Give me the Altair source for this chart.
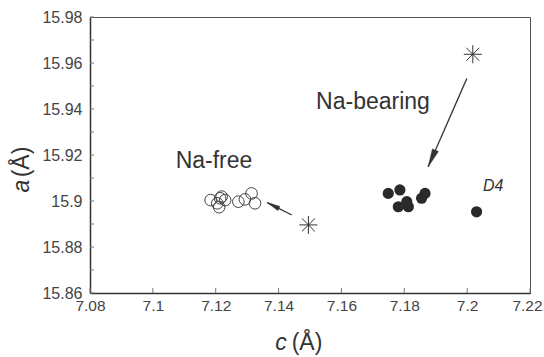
import math
import altair as alt
import pandas as pd

# ---- data ----
free_c = [7.1184, 7.1205, 7.1214, 7.1219, 7.1230, 7.1211, 7.1272, 7.1293, 7.1314, 7.1325]
free_a = [15.9004, 15.8990, 15.9012, 15.9019, 15.9004, 15.8973, 15.8997, 15.9007, 15.9033, 15.8990]

bear_c = [7.1749, 7.1786, 7.1781, 7.1808, 7.1813, 7.1855, 7.1866, 7.2030]
bear_a = [15.9033, 15.9048, 15.8975, 15.8997, 15.8975, 15.9012, 15.9033, 15.8953]

star_c = [7.1495, 7.2018]
star_a = [15.8896, 15.9638]

arrow_c1 = [7.1442, 7.1999]
arrow_a1 = [15.8939, 15.9533]
arrow_c2 = [7.1364, 7.1876]
arrow_a2 = [15.8993, 15.9149]

x_ticks = [7.08, 7.10, 7.12, 7.14, 7.16, 7.18, 7.20, 7.22]
y_ticks = [15.86, 15.88, 15.90, 15.92, 15.94, 15.96, 15.98]
y_minor = [15.86, 15.87, 15.88, 15.89, 15.90, 15.91, 15.92, 15.93, 15.94, 15.95, 15.96, 15.97, 15.98]

X_DOM = [7.08, 7.22]
Y_DOM = [15.86, 15.98]
W, H = 440, 276
FONT = "Liberation Sans"
INK = "#333333"

sx = W / (X_DOM[1] - X_DOM[0])
sy = H / (Y_DOM[1] - Y_DOM[0])
angles = []
for c1, a1, c2, a2 in zip(arrow_c1, arrow_a1, arrow_c2, arrow_a2):
    dx = (c2 - c1) * sx
    dy = -(a2 - a1) * sy
    angles.append(math.degrees(math.atan2(dx, -dy)) % 360)

free_df = pd.DataFrame({"c": free_c, "a": free_a})
bear_df = pd.DataFrame({"c": bear_c, "a": bear_a})
star_df = pd.DataFrame({"c": star_c, "a": star_a})
arrow_df = pd.DataFrame({"c1": arrow_c1, "a1": arrow_a1, "c2": arrow_c2, "a2": arrow_a2,
                         "ang": angles, "sz": [169, 324]})
one = pd.DataFrame({"k": [0]})

xscale = alt.Scale(domain=X_DOM, nice=False, zero=False)
yscale = alt.Scale(domain=Y_DOM, nice=False, zero=False)
xaxis = alt.Axis(values=x_ticks, format=".2~f", title=None, ticks=False, grid=False,
                 domainColor=INK, domainWidth=1.5, labelFont=FONT, labelFontSize=15.5,
                 labelColor="#444444", labelPadding=5, labelFlush=False,
                 labelOffset={"condition": {"test": "datum.value >= 7.219", "value": -3}, "value": 0})
yaxis = alt.Axis(values=y_ticks, format=".2~f", title=None, ticks=False, grid=False,
                 domainColor=INK, domainWidth=1.5, labelFont=FONT, labelFontSize=16,
                 labelColor="#444444", labelPadding=8, labelFlush=False)


def X(f="c"):
    return alt.X(f"{f}:Q", scale=xscale, axis=xaxis)


def Y(f="a"):
    return alt.Y(f"{f}:Q", scale=yscale, axis=yaxis)


open_pts = alt.Chart(free_df).mark_point(shape="circle", filled=False, size=135,
                                         stroke="#444444", strokeWidth=1, opacity=1).encode(x=X(), y=Y())
filled_pts = alt.Chart(bear_df).mark_circle(size=125, color="#2a2a2a", opacity=1).encode(x=X(), y=Y())
stars = alt.Chart(star_df).mark_point(
    shape="M-1,0L1,0M0,-1L0,1M-0.72,-0.72L0.72,0.72M-0.72,0.72L0.72,-0.72",
    filled=False, size=324, stroke=INK, strokeWidth=1, opacity=1).encode(x=X(), y=Y())
arrow_lines = alt.Chart(arrow_df).mark_rule(color=INK, strokeWidth=1.3).encode(
    x=X("c1"), y=Y("a1"), x2="c2:Q", y2="a2:Q")
arrow_heads = alt.Chart(arrow_df).mark_point(
    shape="M0,0L0.36,2L-0.36,2Z", filled=True, fill=INK, stroke=INK, strokeWidth=0.5, opacity=1
).encode(x=X("c2"), y=Y("a2"), angle=alt.Angle("ang:Q", scale=None),
         size=alt.Size("sz:Q", scale=None))

xt = alt.Chart(pd.DataFrame({"v": x_ticks})).mark_rule(color="#777777", strokeWidth=1).encode(
    x=alt.X("v:Q", scale=xscale, axis=xaxis), y=alt.value(H), y2=alt.value(H - 5))
yt = alt.Chart(pd.DataFrame({"v": y_minor})).mark_rule(color="#777777", strokeWidth=1).encode(
    y=alt.Y("v:Q", scale=yscale, axis=yaxis), x=alt.value(0), x2=alt.value(4))


def label(txt, x, y, size=23, style="normal", align="center", angle=0):
    kw = dict(text=txt, font=FONT, fontSize=size, fontStyle=style, color=INK,
              align=align, baseline="alphabetic")
    if angle:
        kw["angle"] = angle
    return alt.Chart(one).mark_text(**kw).encode(x=alt.value(x), y=alt.value(y))


texts = [
    label("Na-free", 124, 151),
    label("Na-bearing", 283, 92),
    label("D4", 393, 174, size=16, style="italic", align="left"),
    label("c", 191, 333, style="italic"),
    label("(Å)", 217, 333),
    label("a", -61, 169, style="italic", angle=270),
    label("(Å)", -61, 145, angle=270),
]

chart = alt.layer(xt, yt, open_pts, filled_pts, stars, arrow_lines, arrow_heads, *texts).properties(
    width=W, height=H,
    autosize=alt.AutoSizeParams(type="none"),
    padding={"left": 90, "top": 17, "right": 14, "bottom": 64},
    background="white",
).configure_view(stroke="#555555", strokeWidth=1)

chart.save("out.html", embed_options={"renderer": "svg", "actions": False})
